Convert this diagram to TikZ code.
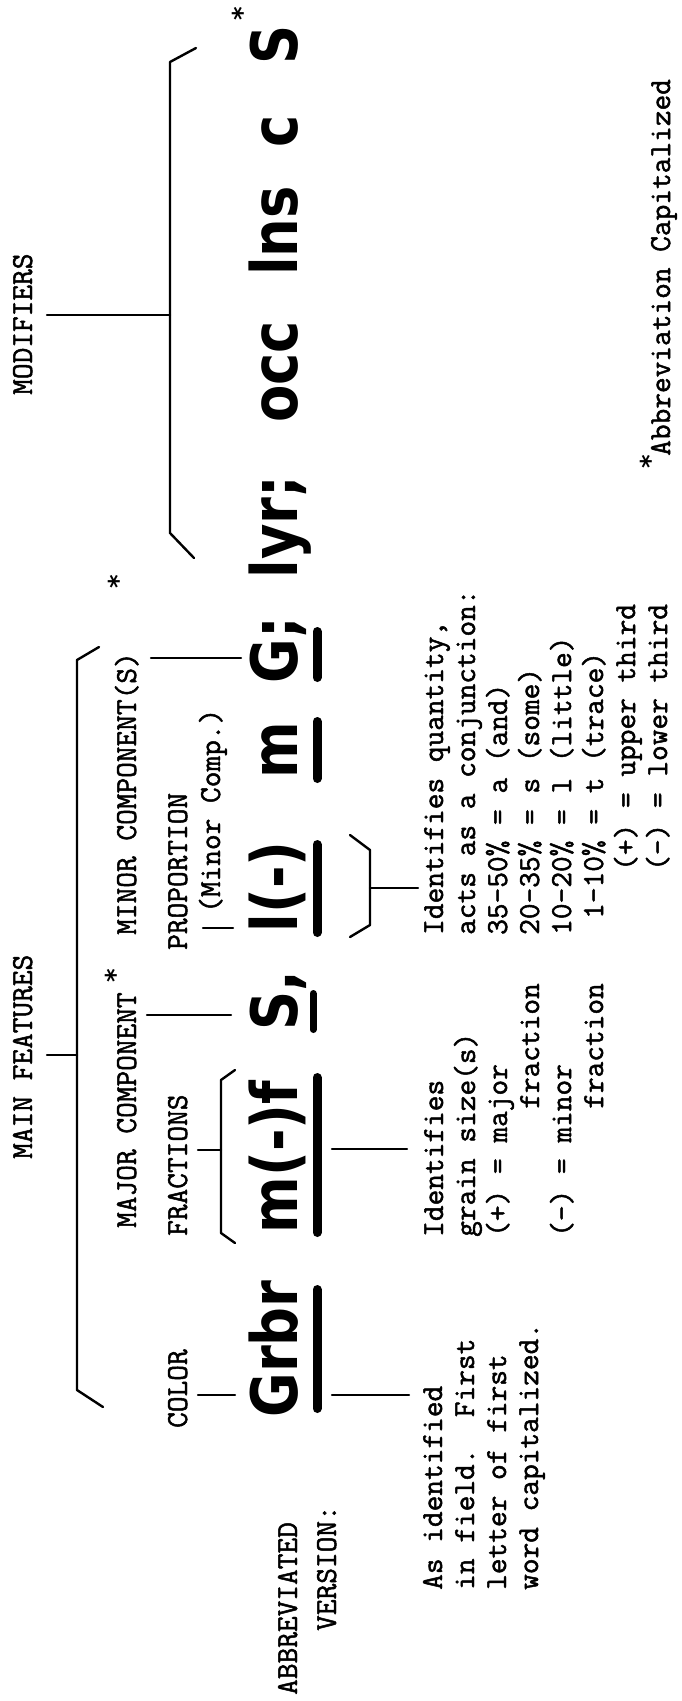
\documentclass[tikz,border=0pt]{standalone}
\usepackage{fontspec}
\usepackage{graphicx}
\newfontfamily\twfont{Latin Modern Mono}[FakeBold=1.6]
\newfontfamily\bigsansfont{DejaVu Sans}
\tikzset{
  lbl/.style={rotate=90, anchor=base west, inner sep=0pt, font=\twfont\fontsize{30.48}{32}\selectfont},
  bigt/.style={rotate=90, anchor=base, inner sep=0pt, font=\bigsansfont\bfseries\fontsize{64}{70}\selectfont},
  starm/.style={rotate=90, anchor=center, inner sep=0pt, font=\bigsansfont\bfseries\fontsize{26}{26}\selectfont},
  thinln/.style={line width=2.4pt, line cap=round, line join=round},
  ul/.style={line width=9pt, line cap=round},
}
\begin{document}
\begin{tikzpicture}[x=1pt, y=-1pt]
\fill[white] (0,0) rectangle (681,1701);
\useasboundingbox (0,0) rectangle (681,1701);

% ---------- big abbreviated text ----------
\node[bigt] (grbr) at (297,1349) {\scalebox{0.85}[1]{Grbr}};
\node[bigt] (mf)   at (297,1157) {\scalebox{0.85}[1]{m(-)f}};
\node[bigt] (s1)   at (297,1001) {\scalebox{0.85}[1]{S,}};
\node[bigt] (lp)   at (297,887)  {\scalebox{0.85}[1]{l(-)}};
\node[bigt] (m2)   at (297,750)  {\scalebox{0.85}[1]{m}};
\node[bigt] (g)    at (297,650)  {\scalebox{0.85}[1]{G;}};
\node[bigt] (lyr)  at (297,527)  {\scalebox{0.85}[1]{lyr;}};
\node[bigt] (occ)  at (297,372)  {\scalebox{0.85}[1]{occ}};
\node[bigt] (lns)  at (297,231)  {\scalebox{0.85}[1]{lns}};
\node[bigt] (c)    at (297,131)  {\scalebox{0.85}[1]{c}};
\node[bigt] (s2)   at (297,45)   {\scalebox{0.85}[1]{S}};
\node[starm] (st0) at (242,14) {*};

% underlines
\draw[ul] (317,1289.5) -- (317,1408.5);
\draw[ul] (317,1077.5) -- (317,1232.5);
\draw[ul, line width=7pt] (313,993.5) -- (313,1029.5);
\draw[ul] (317,844.5) -- (317,932.5);
\draw[ul] (317,721.5) -- (317,778.5);
\draw[ul] (317,631.5) -- (317,677.5);

% ---------- labels above ----------
\node[lbl] (mainf) at (32,1159) {MAIN FEATURES};
\node[lbl] (modif) at (32,395) {MODIFIERS};
\node[lbl] (major) at (136,1228) {MAJOR COMPONENT};
\node[starm] (st1) at (115,976) {*};
\node[lbl] (minor) at (136,935) {MINOR COMPONENT(S)};
\node[starm] (st2) at (118,582) {*};
\node[lbl] (color) at (187,1428) {COLOR};
\node[lbl] (fract) at (187,1236) {FRACTIONS};
\node[lbl] (propo) at (187,950) {PROPORTION};
\node[lbl] (minc)  at (220,913) {(Minor Comp.)};

% main features bracket
\draw[thinln] (99,647) -- (77,660) -- (77,1390) -- (103,1407);
\draw[thinln] (47,1055) -- (77,1055);
% modifiers bracket
\draw[thinln] (196,48) -- (170,62) -- (170,533) -- (194,558);
\draw[thinln] (47,315) -- (170,315);
% fractions bracket
\draw[thinln] (235,1070) -- (221,1080) -- (221,1233) -- (235,1243);
\draw[thinln] (198,1150) -- (221,1150);
% other ticks
\draw[thinln] (198,1395) -- (235,1395);
\draw[thinln] (147,1015) -- (231,1015);
\draw[thinln] (203,928) -- (233,928);
\draw[thinln] (151,658) -- (241,658);

% ---------- below ----------
\node[lbl] (abbr) at (297,1695) {ABBREVIATED};
\node[lbl] (vers) at (336,1631) {VERSION:};

\draw[thinln] (332,1395) -- (409,1395);
\node[lbl] (a1) at (442,1590) {As identified};
\node[lbl] (a2) at (474,1590) {in field.\ \ First};
\node[lbl] (a3) at (506,1590) {letter of first};
\node[lbl] (a4) at (538,1590) {word capitalized.};

\draw[thinln] (332,1149) -- (407,1149);
\node[lbl] (b1) at (443,1237) {Identifies};
\node[lbl] (b2) at (475,1237) {grain size(s)};
\node[lbl] (b3) at (507,1237) {(+) = major};
\node[lbl] (b4) at (539,1109) {fraction};
\node[lbl] (b5) at (571,1237) {(-) = minor};
\node[lbl] (b6) at (603,1109) {fraction};

\draw[thinln] (350,835) -- (370,850) -- (370,925) -- (350,937);
\draw[thinln] (370,888) -- (418,888);
\node[lbl] (q1) at (443,935) {Identifies quantity,};
\node[lbl] (q2) at (475,935) {acts as a conjunction:};
\node[lbl] (q3) at (507,935) {35-50\% = a (and)};
\node[lbl] (q4) at (539,935) {20-35\% = s (some)};
\node[lbl] (q5) at (571,935) {10-20\% = l (little)};
\node[lbl] (q6) at (603,919) {1-10\% = t (trace)};
\node[lbl] (q7) at (635,871) {(+) = upper third};
\node[lbl] (q8) at (667,871) {(-) = lower third};

% footnote
\node[starm] (st3) at (650,462) {*};
\node[lbl] (foot) at (670,456) {Abbreviation Capitalized};
\end{tikzpicture}
\end{document}
